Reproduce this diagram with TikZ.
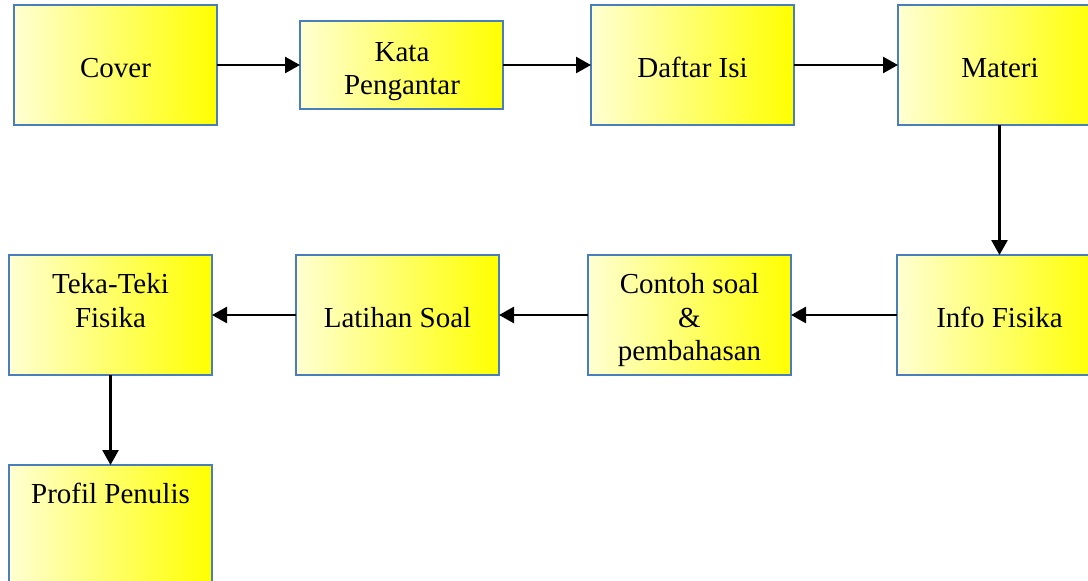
\documentclass[tikz,border=0pt]{standalone}
\usepackage{fontspec}
\setmainfont{Liberation Serif}
\usetikzlibrary{arrows.meta}
\definecolor{boxline}{RGB}{74,126,187}
\definecolor{paleyellow}{RGB}{255,255,210}
\begin{document}
\begin{tikzpicture}[x=1pt,y=-1pt,
  box/.style={draw=boxline, line width=1.4pt, left color=paleyellow, right color=yellow,
              minimum width=203pt, minimum height=120pt, inner sep=0pt, outer sep=0pt},
  lbl/.style={anchor=base, inner sep=0pt, font=\fontsize{29}{33}\selectfont},
  flow/.style={line width=2.6pt, -{Triangle[length=15pt,width=16pt]}}]
\useasboundingbox (0,0) rectangle (1088,581);
\clip (0,0) rectangle (1088,581);

% top row
\node[box] (cover)  at (115.5,65) {};
\node[box, minimum height=88pt] (kata) at (401.5,65) {};
\node[box] (daftar) at (692.5,65) {};
\node[box] (materi) at (999.5,65) {};

% bottom row
\node[box] (teka)    at (110.5,315) {};
\node[box] (latihan) at (397.5,315) {};
\node[box] (contoh)  at (689.5,315) {};
\node[box] (info)    at (998.5,315) {};

% last page
\node[box] (profil)  at (110.5,525) {};

% box texts
\node[lbl] (cover-t)   at (115.5,77) {Cover};
\node[lbl] (kata-t1)   at (402,61) {Kata};
\node[lbl] (kata-t2)   at (402,94) {Pengantar};
\node[lbl] (daftar-t)  at (692.5,77) {Daftar Isi};
\node[lbl] (materi-t)  at (1000,77) {Materi};
\node[lbl] (teka-t1)   at (110.5,293) {Teka-Teki};
\node[lbl] (teka-t2)   at (110.5,327) {Fisika};
\node[lbl] (latihan-t) at (397.5,327) {Latihan Soal};
\node[lbl] (contoh-t1) at (689.5,293) {Contoh soal};
\node[lbl] (contoh-t2) at (689.5,327) {\&};
\node[lbl] (contoh-t3) at (689.5,360) {pembahasan};
\node[lbl] (info-t)    at (999.5,327) {Info Fisika};
\node[lbl] (profil-t)  at (110.5,503) {Profil Penulis};

% connectors
\draw[flow] (cover) -- (kata);
\draw[flow] (kata) -- (daftar);
\draw[flow] (daftar) -- (materi);
\draw[flow] (materi.south) -- (materi.south |- info.north);
\draw[flow] (info) -- (contoh);
\draw[flow] (contoh) -- (latihan);
\draw[flow] (latihan) -- (teka);
\draw[flow] (teka) -- (profil);
\end{tikzpicture}
\end{document}
